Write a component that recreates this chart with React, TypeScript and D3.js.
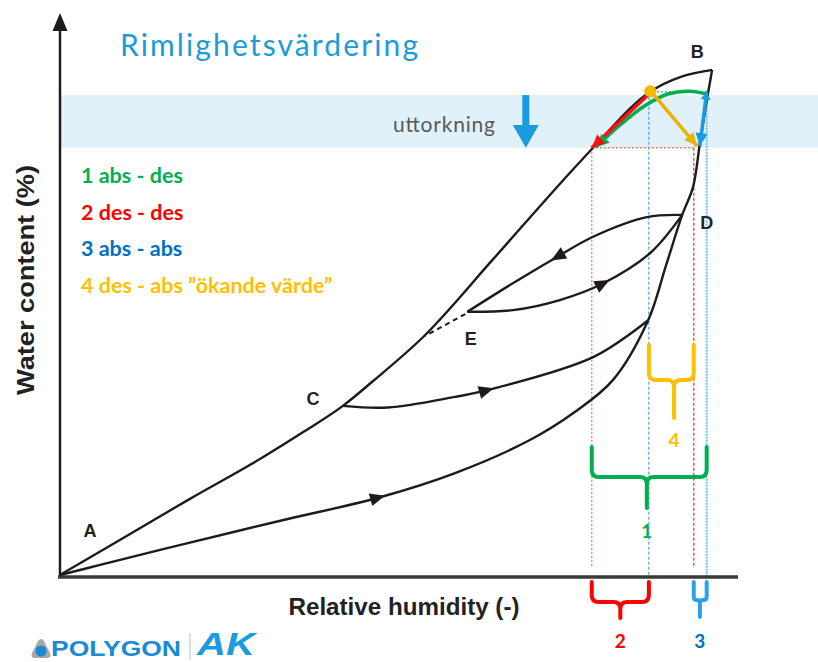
import * as d3 from 'd3';

// relative humidity (%) vs water content (%)
const absorptionAB = [
  [0, 0], [5.9, 1.8], [18.8, 5.7], [33.5, 10.0], [46.8, 13.8], [58.1, 18.2], [69.1, 24.1],
  [75.7, 29.1], [81.3, 34.8], [86.5, 45.5], [89.1, 55.2], [91.5, 64.3], [93.1, 69.3],
  [94.1, 77.1], [95.0, 83.9], [95.9, 90.2],
];
const desorptionBA = [
  [95.9, 90.2], [94.1, 89.8], [91.2, 88.9], [86.8, 86.3], [78.4, 76.3], [74.0, 70.5],
  [63.7, 56.4], [53.4, 42.5], [46.0, 34.6], [41.6, 30.2], [36.0, 25.7], [29.4, 20.7],
  [19.1, 13.6], [8.8, 6.25], [0, 0],
];
const scanDE = [[91.5, 64.3], [86.3, 63.9], [78.4, 60.4], [73.1, 56.8], [66.6, 52.1], [59.9, 47.0]];
const scanED = [[59.9, 47.0], [66.6, 47.3], [73.5, 49.1], [79.9, 52.1], [86.8, 57.5], [91.5, 64.3]];
const scanC = [[41.6, 30.2], [48.2, 29.9], [58.1, 31.8], [62.8, 33.0], [78.4, 38.9], [86.5, 45.5]];
const linkE = [[59.6, 46.6], [53.7, 42.7]];

// arrowheads: [curve, index of point]
const arrowMarks: [number[][], number][] = [
  [absorptionAB, 4], [scanC, 3], [scanED, 3], [scanDE, 3],
];

const pointLabels = ['A', 'B', 'C', 'D', 'E'];
const pointLabelPos = [[4.4, 8.0], [93.7, 93.4], [37.2, 31.6], [95.1, 63.0], [60.4, 42.3]];

// guide levels
const guideRH = [78.2, 86.6, 93.2, 95.1];
const wcLow = 76.3;
const wcHigh = 86.3;
const bandWC = [76.3, 85.7];

// coloured paths in the drying band
const redPath = [[86.9, 86.2], [78.2, 76.3]];
const greenPath = [[95.1, 85.9], [92.6, 86.4], [89.4, 85.9], [86.0, 83.8], [82.4, 80.4], [78.8, 76.4]];
const yellowPath = [[87.1, 86.1], [93.7, 76.6]];
const bluePath = [[95.1, 86.3], [94.1, 76.6]];
const yellowDot = [86.8, 86.4];

const legendItems = ['1 abs - des', '2 des - des', '3 abs - abs', '4 des - abs ”ökande värde”'];
const legendColors = ['#00b050', '#ff0000', '#0070c0', '#ffc000'];

// braces: [left RH, right RH, stem RH]
const braceLabels = ['4', '1', '2', '3'];
const braceSpans = [[86.6, 93.2, 90.3], [78.2, 95.1, 86.3], [78.2, 86.6, 82.4], [93.2, 95.1, 94.1]];
const braceY = [[345, 380, 418, 447], [447, 477, 508, 538], [582, 602, 618, 648], [582, 600, 617, 648]];
const braceColors = ['#ffc000', '#00b050', '#ff0000', '#29a3e6'];
const braceTextColors = ['#ffc000', '#00b050', '#ff0000', '#0070c0'];

const W = 818;
const H = 662;

const x = d3.scaleLinear().domain([0, 100]).range([60, 740]);
const y = d3.scaleLinear().domain([0, 100]).range([575, 15]);

const monotone = d3.line<number[]>().x(d => x(d[0])).y(d => y(d[1])).curve(d3.curveMonotoneX);
const straight = d3.line<number[]>().x(d => x(d[0])).y(d => y(d[1]));
const smooth = d3.line<number[]>().x(d => x(d[0])).y(d => y(d[1])).curve(d3.curveCatmullRom.alpha(0.5));

function head(tx: number, ty: number, ang: number, len: number, half: number) {
  const c = Math.cos(ang), s = Math.sin(ang);
  const bx = tx - c * len, by = ty - s * len;
  return `M${tx},${ty}L${bx - s * half},${by + c * half}L${bx + s * half},${by - c * half}Z`;
}

function endHead(pts: number[][], len = 13, half = 6) {
  const a = pts[pts.length - 2], b = pts[pts.length - 1];
  const ang = Math.atan2(y(b[1]) - y(a[1]), x(b[0]) - x(a[0]));
  return head(x(b[0]), y(b[1]), ang, len, half);
}

function bracePath(L: number, R: number, M: number, T: number, B: number, S: number) {
  const r = Math.min(7, (R - L) / 4);
  const p = d3.path();
  p.moveTo(L, T);
  p.lineTo(L, B - r);
  p.quadraticCurveTo(L, B, L + r, B);
  p.lineTo(M - r, B);
  p.quadraticCurveTo(M, B, M, B + r);
  p.lineTo(M, S);
  p.moveTo(R, T);
  p.lineTo(R, B - r);
  p.quadraticCurveTo(R, B, R - r, B);
  p.lineTo(M + r, B);
  p.quadraticCurveTo(M, B, M, B + r);
  return p.toString();
}

const ink = '#1c1c1c';
const cal = 'Lato, "Open Sans", sans-serif';
const arial = '"Liberation Sans", Arial, sans-serif';

export default function App() {
  const bottom = y(0);
  return (
    <div style={{ position: 'absolute', left: 0, top: 0 }}>
      <svg width={W} height={H} style={{ display: 'block', background: '#fff' }}>
        {/* drying band */}
        <rect x={x(0)} y={y(bandWC[1])} width={W - x(0)} height={y(bandWC[0]) - y(bandWC[1])} fill="#e0f1f9" />

        <text x={120} y={56} fontFamily={cal} fontSize={30} fill="#1b9bd7" textLength={298}>Rimlighetsvärdering</text>

        <text x={393} y={132} fontFamily={cal} fontSize={21} fill="#595959" textLength={102}>uttorkning</text>
        <rect x={x(68.5) - 3.5} y={y(bandWC[1])} width={7} height={32} fill="#1a9be0" />
        <path d={`M${x(68.5) - 13},${y(bandWC[1]) + 30}L${x(68.5) + 13},${y(bandWC[1]) + 30}L${x(68.5)},${y(bandWC[0])}Z`} fill="#1a9be0" />

        {legendItems.map((t, i) => (
          <text key={t} x={81} y={183 + i * 36.5} fontFamily={cal} fontWeight={700} fontSize={21.5} fill={legendColors[i]}>{t}</text>
        ))}

        {/* guide lines */}
        <line x1={x(guideRH[0])} x2={x(guideRH[0])} y1={y(wcLow)} y2={bottom - 7} stroke="#ff8080" strokeWidth={1.5} strokeDasharray="2,2" />
        <line x1={x(guideRH[1])} x2={x(guideRH[1])} y1={y(wcHigh)} y2={bottom + 2} stroke="#2b8fd0" strokeWidth={1} strokeDasharray="3,2" />
        <line x1={x(guideRH[2])} x2={x(guideRH[2])} y1={y(wcLow)} y2={bottom - 7} stroke="#ff4d4d" strokeWidth={1.5} strokeDasharray="3,2" />
        <line x1={x(guideRH[3])} x2={x(guideRH[3])} y1={y(wcHigh)} y2={bottom + 2} stroke="#6cc4f0" strokeWidth={2} strokeDasharray="2,1" />
        <line x1={x(guideRH[0])} x2={x(guideRH[2])} y1={y(wcLow)} y2={y(wcLow)} stroke="#ff6b6b" strokeWidth={1.5} strokeDasharray="2,2" />
        <line x1={x(guideRH[1])} x2={x(guideRH[3])} y1={y(wcHigh)} y2={y(wcHigh)} stroke="#4aa8e0" strokeWidth={1.5} strokeDasharray="2,2" />

        {/* axes */}
        <line x1={x(0)} x2={x(0)} y1={bottom + 2} y2={30} stroke={ink} strokeWidth={2.5} />
        <path d="M60,13L52.5,31L67.5,31Z" fill={ink} />
        <line x1={x(0) - 2} x2={x(100) - 2} y1={bottom + 2} y2={bottom + 2} stroke="#3a3a3a" strokeWidth={3.5} />

        <text transform="translate(34,280) rotate(-90)" textAnchor="middle" fontFamily={arial} fontWeight={700} fontSize={23} fill="#222" textLength={230} lengthAdjust="spacingAndGlyphs">Water content (%)</text>
        <text x={404} y={615} textAnchor="middle" fontFamily={arial} fontWeight={700} fontSize={23} fill="#222" textLength={231} lengthAdjust="spacingAndGlyphs">Relative humidity (-)</text>

        {/* sorption curves */}
        <g fill="none" stroke={ink} strokeWidth={2.4}>
          <path d={smooth(absorptionAB)!} />
          <path d={monotone(desorptionBA)!} />
          <path d={smooth(scanDE)!} />
          <path d={smooth(scanED)!} />
          <path d={smooth(scanC)!} />
          <path d={straight(linkE)!} strokeDasharray="5,4" strokeWidth={2} />
        </g>
        {arrowMarks.map(([c, i], k) => {
          const a = c[i - 1], b = c[i + 1];
          const ang = Math.atan2(y(b[1]) - y(a[1]), x(b[0]) - x(a[0]));
          const px = x(c[i][0]) + Math.cos(ang) * 7;
          const py = y(c[i][1]) + Math.sin(ang) * 7;
          return <path key={k} d={head(px, py, ang, 15, 6.5)} fill={ink} />;
        })}
        {pointLabels.map((t, i) => (
          <text key={t} x={x(pointLabelPos[i][0])} y={y(pointLabelPos[i][1])} dy="0.36em" textAnchor="middle" fontFamily={arial} fontWeight={700} fontSize={18} fill="#222">{t}</text>
        ))}

        {/* coloured moves */}
        <g fill="none" strokeWidth={3.5}>
          <path d={smooth(greenPath)!} stroke="#00b050" />
          <path d={straight(redPath)!} stroke="#ff1010" />
          <path d={straight(yellowPath)!} stroke="#e8b400" />
          <path d={straight(bluePath)!} stroke="#1a9be0" />
        </g>
        <path d={endHead(greenPath)} fill="#00b050" />
        <path d={endHead(redPath)} fill="#ff1010" />
        <path d={endHead(yellowPath)} fill="#e8b400" />
        <path d={endHead(bluePath)} fill="#1a9be0" />
        <path d={endHead([bluePath[1], bluePath[0]], 8, 5)} fill="#1a9be0" />
        <circle cx={x(yellowDot[0])} cy={y(yellowDot[1])} r={6} fill="#f5b800" />

        {/* braces */}
        {braceSpans.map((s, i) => (
          <g key={i}>
            <path d={bracePath(x(s[0]), x(s[1]), x(s[2]), braceY[i][0], braceY[i][1], braceY[i][2])} fill="none" stroke={braceColors[i]} strokeWidth={4} strokeLinecap="round" />
            <text x={x(s[2])} y={braceY[i][3]} textAnchor="middle" fontFamily={cal} fontWeight={700} fontSize={19} fill={braceTextColors[i]}>{braceLabels[i]}</text>
          </g>
        ))}

        {/* logo */}
        <path d="M38,641 Q41,637 44,641 L50,653 Q52,658 47,658 L35,658 Q30,658 32,653 Z" fill="#a9a9a9" />
        <circle cx={41} cy={651} r={5.5} fill="#1a8ad4" />
        <text x={51} y={656} fontFamily={arial} fontWeight={900} fontSize={22} fill="#1a8ad4" textLength={130} lengthAdjust="spacingAndGlyphs">POLYGON</text>
        <line x1={190} x2={190} y1={633} y2={660} stroke="#bdbdbd" strokeWidth={1} />
        <text x={197} y={655} fontFamily={arial} fontWeight={900} fontStyle="italic" fontSize={31} fill="#1a9be0" textLength={58} lengthAdjust="spacingAndGlyphs">AK</text>
      </svg>
    </div>
  );
}
